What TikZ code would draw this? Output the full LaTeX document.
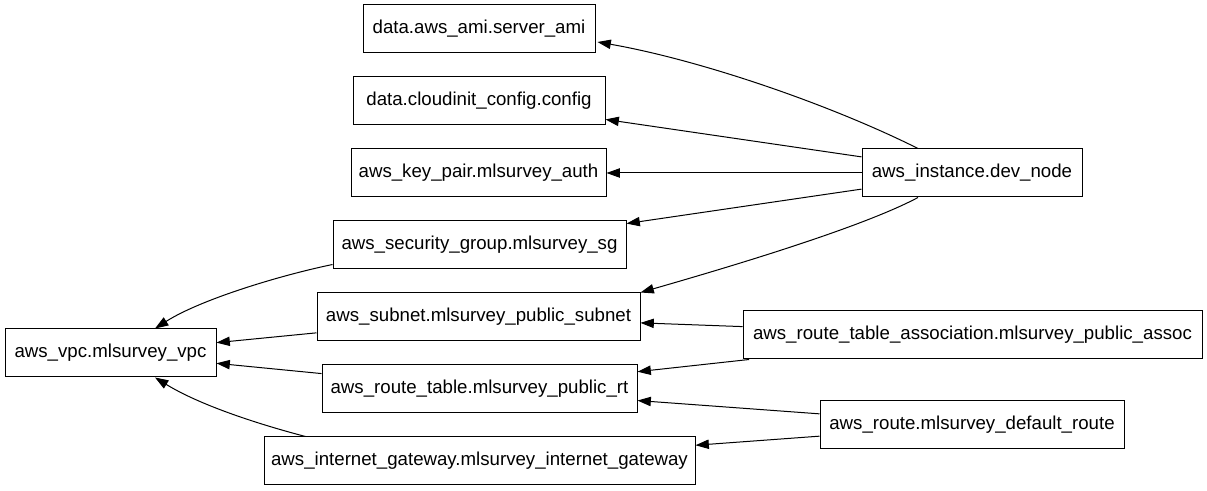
\documentclass[tikz,border=0pt]{standalone}
\usepackage{fontspec}
\setmainfont{Liberation Sans}
\usetikzlibrary{arrows.meta,calc}
\begin{document}
\begin{tikzpicture}[x=0.75pt,y=-0.75pt,
  box/.style={draw, line width=0.75pt, minimum height=36pt, inner sep=0pt, font=\fontsize{14}{16}\selectfont},
  edge/.style={line width=0.75pt, -{Triangle[length=10pt,width=7pt]}}]
\useasboundingbox (0,0) rectangle (1207,491);
% left column
\node[box, minimum width=174pt]    (ami)    at (479,29)    {data.aws\_ami.server\_ami};
\node[box, minimum width=189pt]    (cloud)  at (479,101)   {data.cloudinit\_config.config};
\node[box, minimum width=191.25pt] (key)    at (478.5,173) {aws\_key\_pair.mlsurvey\_auth};
\node[box, minimum width=219.75pt] (sg)     at (479.5,245) {aws\_security\_group.mlsurvey\_sg};
\node[box, minimum width=242.25pt] (subnet) at (478.5,317) {aws\_subnet.mlsurvey\_public\_subnet};
\node[box, minimum width=236.25pt] (rt)     at (479.5,389) {aws\_route\_table.mlsurvey\_public\_rt};
\node[box, minimum width=323.25pt] (igw)    at (479.5,461) {aws\_internet\_gateway.mlsurvey\_internet\_gateway};
\node[box, minimum width=158.25pt] (vpc)    at (110.5,353) {aws\_vpc.mlsurvey\_vpc};
% right column
\node[box, minimum width=165pt]    (inst)   at (972,173)   {aws\_instance.dev\_node};
\node[box, minimum width=344.25pt] (assoc)  at (972.5,335) {aws\_route\_table\_association.mlsurvey\_public\_assoc};
\node[box, minimum width=228pt]    (route)  at (972,425)   {aws\_route.mlsurvey\_default\_route};
% edges
\draw[edge] ($(inst.north)+(-54,0)$) .. controls ($(inst.north)+(-142,-44)$) and ($(ami.east)+(105,31)$) .. ($(ami.east)+(2,13)$);
\draw[edge] (inst) -- (cloud);
\draw[edge] (inst) -- (key);
\draw[edge] (inst) -- (sg);
\draw[edge] ($(inst.south)+(-54,0)$) .. controls ($(inst.south)+(-112,31)$) and ($(subnet.north east)+(80,-23)$) .. ($(subnet.north east)+(0,0)$);
\draw[edge] (assoc) -- (subnet);
\draw[edge] (assoc) -- (rt);
\draw[edge] (route) -- (rt);
\draw[edge] (route) -- (igw);
\draw[edge] ($(sg.south west)+(0,-5)$) .. controls ($(sg.south west)+(-53,6)$) and ($(vpc.north)+(90,-29)$) .. ($(vpc.north)+(44.5,0)$);
\draw[edge] (subnet) -- (vpc);
\draw[edge] (rt) -- (vpc);
\draw[edge] ($(igw.north west)+(42,0)$) .. controls ($(igw.north west)+(-4,-12)$) and ($(vpc.south)+(90,28)$) .. ($(vpc.south)+(44.5,0)$);
\end{tikzpicture}
\end{document}
